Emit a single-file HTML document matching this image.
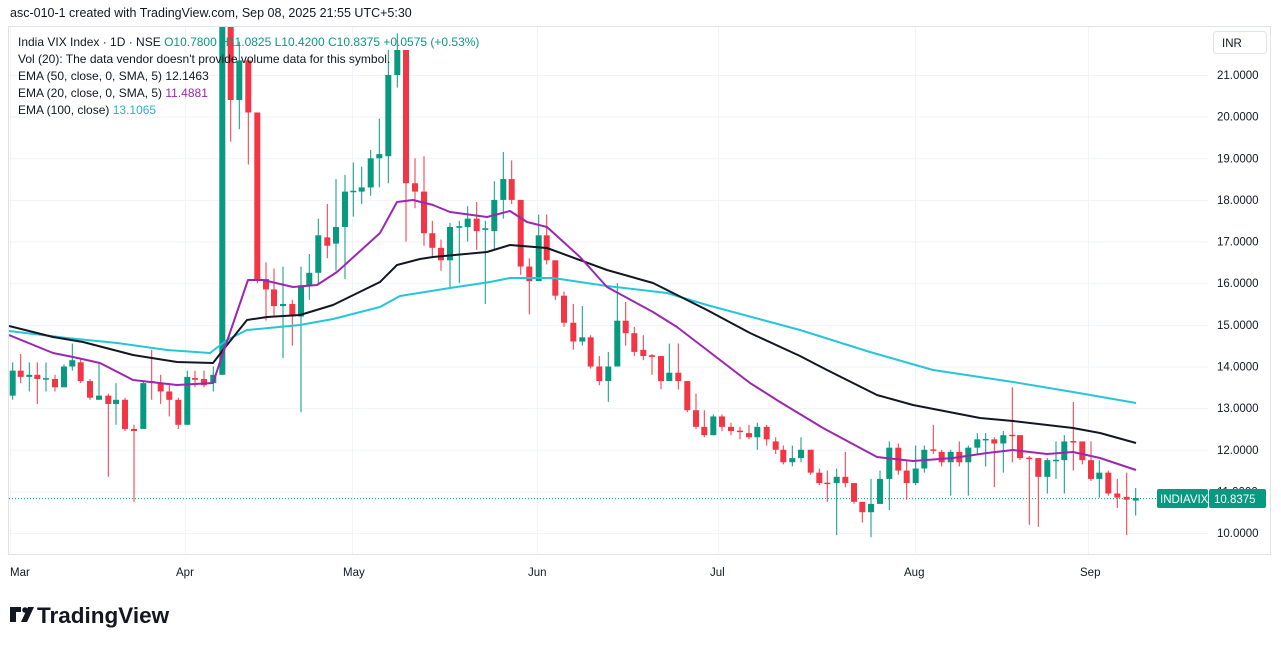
<!DOCTYPE html>
<html><head><meta charset="utf-8"><style>
body{margin:0;background:#fff;width:1281px;height:646px;overflow:hidden;font-family:"Liberation Sans",sans-serif}
</style></head><body>
<svg id="s" width="1281" height="646" xmlns="http://www.w3.org/2000/svg" font-family="Liberation Sans, sans-serif">
<rect width="1281" height="646" fill="#fff"/>
<text x="10" y="17" font-size="12.5" fill="#131722">asc-010-1 created with TradingView.com, Sep 08, 2025 21:55 UTC+5:30</text>
<rect x="8.5" y="26.5" width="1262" height="528" fill="none" stroke="#e0e3eb"/>
<g id="grid" stroke="#f0f3fa" stroke-width="1"></g>
<defs><clipPath id="cp"><rect x="9" y="27" width="1199" height="527"/></clipPath></defs>
<g id="plot" clip-path="url(#cp)"></g>
<g id="ax" font-size="11.5" fill="#131722"></g>
<rect x="1213.5" y="31.5" width="53" height="22" rx="3" fill="#fff" stroke="#e0e3eb"/>
<text x="1222" y="47" font-size="11.5" fill="#131722">INR</text>
<rect x="1157" y="489" width="51" height="19" rx="2" fill="#089981"/>
<text x="1160" y="503" font-size="11.5" fill="#fff">INDIAVIX</text>
<rect x="1209" y="489" width="57" height="19" rx="2" fill="#089981"/>
<text x="1214" y="503" font-size="11.5" fill="#fff">10.8375</text>
<g font-size="11.5" fill="#131722">
<text x="10" y="576">Mar</text><text x="176" y="576">Apr</text><text x="343" y="576">May</text><text x="528" y="576">Jun</text><text x="710" y="576">Jul</text><text x="904" y="576">Aug</text><text x="1080" y="576">Sep</text>
</g>
<g font-size="12" fill="#131722">
<text x="18" y="46">India VIX Index · 1D · NSE <tspan fill="#089981">O10.7800  H11.0825  L10.4200  C10.8375  +0.0575 (+0.53%)</tspan></text>
<text x="18" y="63">Vol (20): The data vendor doesn't provide volume data for this symbol.</text>
<text x="18" y="80">EMA (50, close, 0, SMA, 5)  <tspan fill="#131722">12.1463</tspan></text>
<text x="18" y="97">EMA (20, close, 0, SMA, 5)  <tspan fill="#9c27b0">11.4881</tspan></text>
<text x="18" y="114">EMA (100, close)  <tspan fill="#26b5c6">13.1065</tspan></text>
</g>
<g transform="translate(10,605)">
<path d="M0 2h11v5h-5v10h-6z" fill="#131722"/><circle cx="15" cy="5" r="2.8" fill="#131722"/><path d="M18 2h6l-7 15h-6z" fill="#131722"/>
</g>
<text x="37" y="623" font-size="22.5" font-weight="bold" fill="#131722">TradingView</text>
</svg>
<script>
const Y=v=>75+(21-v)*41.64;
const NS="http://www.w3.org/2000/svg";
function el(p,t,a){const e=document.createElementNS(NS,t);for(const k in a)e.setAttribute(k,a[k]);p.appendChild(e);return e;}
const grid=document.getElementById('grid'),ax=document.getElementById('ax'),plot=document.getElementById('plot');
for(let v=10;v<=21;v++){el(grid,'line',{x1:9,x2:1208,y1:Y(v)+.5,y2:Y(v)+.5});const t=el(ax,'text',{x:1217,y:Y(v)+4});t.textContent=v.toFixed(4);}
[10,185,352,537,718,915,1088].forEach(x=>el(grid,'line',{x1:x+.5,x2:x+.5,y1:27,y2:554}));
el(plot,'line',{x1:9,x2:1157,y1:Y(10.8375)+.5,y2:Y(10.8375)+.5,stroke:'#089981','stroke-dasharray':'1 2','stroke-width':1});
const D=[[12.7,13.3,13.9,14.1,13.2],[20.7,13.9,13.75,14.3,13.6],[29.3,13.75,13.8,14.1,13.4],[37.3,13.8,13.7,14.1,13.1],[46,13.7,13.72,14.1,13.4],[55,13.7,13.5,13.8,13.4],[64,13.5,14,14.05,13.5],[72.3,14,14.15,14.55,13.9],[80.7,14.1,13.65,14.2,13.6],[90,13.65,13.25,13.7,13.2],[99,13.2,13.3,14.1,13.2],[108.3,13.3,13.1,13.35,11.35],[116,13.1,13.2,13.6,12.6],[125,13.2,12.5,13.25,12.45],[134,12.5,12.45,12.6,10.75],[143.3,12.5,13.6,13.65,12.5],[151.7,13.65,13.62,14.4,13.2],[160.7,13.6,13.4,13.8,13.1],[169.3,13.4,13.2,13.6,12.8],[178.3,13.2,12.6,13.25,12.5],[187.3,12.6,13.75,13.9,12.6],[195,13.72,13.68,13.9,13.5],[204,13.7,13.55,13.9,13.5],[213.3,13.6,13.8,14,13.4],[222.3,13.8,22.2,22.5,13.8],[230.7,22.2,20.4,22.2,19.4],[239.3,20.4,21.35,21.8,19.7],[248.3,21.35,20.1,21.4,18.85],[257.3,20.1,16.1,20.1,16],[266,16.1,15.85,16.5,15.1],[274,15.85,15.45,16.35,15.2],[283,15.45,15.5,16.4,14.2],[292.3,15.5,15.2,15.6,14.5],[301,15.2,15.95,16.4,12.9],[309.3,15.95,16.25,16.7,15.6],[318.3,16.25,17.15,17.55,16],[327.3,17.1,16.9,17.9,16.6],[336,16.95,17.35,18.5,16.3],[345,17.35,18.2,18.6,16.1],[353.3,18.2,18.22,18.9,17.6],[361.7,18.2,18.3,18.8,17.9],[370.7,18.3,19,19.2,18.1],[379.3,19,19.1,19.95,18.3],[388.3,19.05,21,21.6,18.4],[397.3,21,21.6,22,20.7],[406,21.6,18.4,21.6,17],[415,18.4,18.2,19,17.8],
[424,18.2,17.2,19.05,16.9],[432.3,17.2,16.85,17.5,16.6],[441,16.85,16.55,17.05,16.3],[450,16.55,17.35,17.45,15.9],[459.3,17.33,17.37,17.5,16],[467.7,17.35,17.55,17.85,17],[476.7,17.55,17.25,17.95,16.8],[485.3,17.28,17.32,17.5,15.5],[494.3,17.25,18,18.45,16.8],[503.3,18,18.5,19.15,17.55],[511.7,18.5,18,18.95,17.9],[520.7,18,16.4,18,16.2],[529.3,16.4,16.05,16.6,15.25],[538.7,16.05,17.15,17.65,16.05],[546.7,17.15,16.55,17.65,16.45],[555.3,16.55,15.7,16.55,15.6],[564,15.7,15.05,15.8,14.95],[573.3,15.05,14.6,15.5,14.4],[582.3,14.6,14.7,15.45,14.5],[590.7,14.7,14,14.75,13.95],[599.3,14,13.65,14.25,13.55],[608.3,13.65,14,14.35,13.15],[617.3,14,15.1,16,14],[625.7,15.1,14.8,15.55,14.5],[634.3,14.8,14.35,14.95,14.25],[643.3,14.4,14.25,14.75,14.15],[652,14.27,14.23,14.3,13.8],[661,14.25,13.65,14.25,13.45],[669.3,13.65,13.85,14.55,13.65],[678.3,13.85,13.65,14.55,13.45],[687.3,13.65,12.95,13.65,12.9],[696,12.95,12.55,13.35,12.5],[704.3,12.55,12.35,12.95,12.3],[713.3,12.35,12.8,12.85,12.35],[722,12.8,12.55,12.85,12.45],[731,12.55,12.45,12.65,12.35],[740,12.46,12.44,12.55,12.25],[749,12.4,12.3,12.6,12.25],[757.3,12.3,12.55,12.65,12],[766.7,12.55,12.25,12.6,12.1],[775.7,12.2,12,12.3,11.9],
[783.3,12,11.7,12.1,11.65],[792.3,11.7,11.8,12.1,11.6],[801,11.8,12,12.3,11.7],[810.7,12,11.45,12,11.4],[819.3,11.45,11.2,11.55,11.15],[827.3,11.21,11.19,11.5,10.75],[836.7,11.2,11.35,11.55,9.95],[845.3,11.35,11.2,11.95,11.1],[854,11.2,10.75,11.2,10.7],[862.3,10.75,10.5,10.75,10.25],[871,10.5,10.7,11.3,9.9],[880,10.7,11.3,11.5,10.7],[889.3,11.3,12.05,12.2,10.55],[898.3,12.05,11.5,12.15,11.4],[906.7,11.5,11.2,11.75,10.8],[915.7,11.2,11.55,12.1,11.15],[924.3,11.55,12,12.1,11.45],[933.3,12.01,11.99,12.6,11.9],[941.7,11.95,11.7,12,11.6],[950.7,11.7,11.95,12,10.9],[959.3,11.95,11.7,12.2,11.6],[968.3,11.7,12.05,12.1,10.9],[977.3,12.05,12.25,12.4,11.9],[985.7,12.24,12.26,12.4,11.6],[994.3,12.25,12.15,12.3,11.1],[1003.3,12.15,12.35,12.45,11.45],[1012.3,12.36,12.34,13.5,11.7],[1020,12.35,11.8,12.35,11.75],[1029.3,11.81,11.79,11.85,10.2],[1038.3,11.8,11.35,11.8,10.15],[1047.3,11.35,11.75,11.8,10.95],[1056,11.74,11.76,12.2,11.3],[1064.3,11.75,12.2,12.35,10.95],[1073.3,12.21,12.19,13.15,11.5],[1082.3,12.2,11.75,12.2,11.65],[1091,11.75,11.3,12.2,11.25],[1099.3,11.3,11.45,11.75,10.85],[1108.3,11.45,10.95,11.5,10.9],[1117.3,10.95,10.85,11.3,10.6],[1126.7,10.87,10.8,11.45,9.95],[1135.7,10.78,10.84,11.08,10.42]];
const lines=[
['#26c6da',[[9,331],[67,338],[117,343],[167,350],[210,353],[227,340],[247,330],[300,325],[333,319],[380,307],[400,296],[450,288],[490,282],[510,278],[553,278],[607,286],[667,293],[707,305],[800,330],[870,352],[933,370],[1013,382],[1073,392],[1136,403]]],
['#131722',[[9,326],[53,337],[83,342],[133,355],[177,362],[213,363],[227,345],[247,320],[267,317],[300,315],[333,305],[380,282],[397,265],[420,259],[433,257],[487,252],[510,245],[547,248],[607,270],[653,283],[673,293],[707,310],[750,333],[800,356],[827,370],[877,395],[913,405],[980,418],[1013,421],[1073,428],[1100,433],[1136,443]]],
['#9c27b0',[[9,335],[53,353],[73,357],[100,363],[133,380],[177,385],[213,383],[223,353],[248,280],[263,280],[293,287],[317,285],[337,272],[380,233],[397,202],[413,200],[433,205],[450,212],[487,217],[510,211],[527,222],[547,227],[580,257],[607,287],[653,312],[677,327],[707,350],[750,383],[780,402],[823,428],[877,457],[913,461],[953,458],[987,453],[1013,450],[1047,454],[1073,452],[1100,458],[1136,470]]]];
D.forEach(d=>{const[x,o,c,h,l]=d;const col=c>=o?'#089981':'#f23645';
el(plot,'line',{x1:x,x2:x,y1:Y(h),y2:Y(l),stroke:col,'stroke-width':1});
const t=Math.min(Y(o),Y(c)),b=Math.max(Y(o),Y(c));el(plot,'rect',{x:x-3,y:t,width:6,height:Math.max(1.5,b-t),fill:col});});
lines.forEach(([c,p])=>el(plot,'polyline',{points:p.map(q=>q.join(',')).join(' '),fill:'none',stroke:c,'stroke-width':2,'stroke-linejoin':'round'}));
</script>
</body></html>
